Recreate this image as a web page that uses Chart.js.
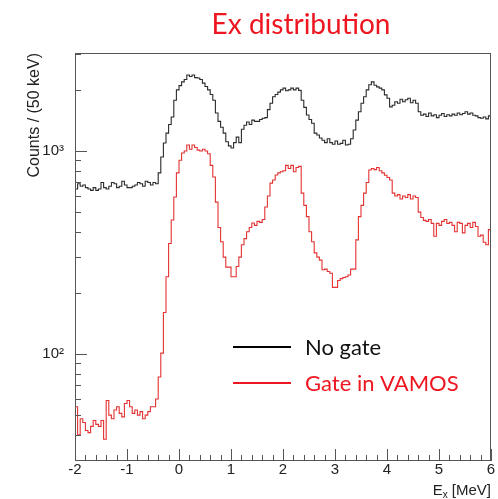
<!DOCTYPE html>
<html><head><meta charset="utf-8">
<script src="https://cdn.jsdelivr.net/npm/chart.js@4"></script>
<style>html,body{margin:0;padding:0;background:#fff;overflow:hidden}</style>
</head><body>
<canvas id="c" width="498" height="499" style="display:block"></canvas>
<script>
// Histogram: 160 bins of 50 keV from -2 to 6 MeV
const binLow = -2;
const binWidth = 0.05;
const noGate = [
  650, 690, 670, 680, 660, 650, 640, 660, 640, 650,
  700, 660, 650, 670, 700, 690, 660, 670, 710, 680,
  660, 660, 670, 680, 700, 690, 670, 710, 700, 680,
  700, 690, 780, 935, 1095, 1225, 1350, 1470, 1780, 2000,
  2100, 2190, 2250, 2370, 2330, 2370, 2300, 2290, 2250, 2160,
  2080, 2000, 1900, 1780, 1540, 1400, 1310, 1225, 1110, 1060,
  1035, 1100, 1170, 1100, 1280, 1340, 1390, 1350, 1420, 1400,
  1400, 1430, 1450, 1460, 1600, 1720, 1850, 1900, 1950, 2000,
  2040, 1980, 2000, 2040, 2000, 2040, 1990, 1780, 1640, 1505,
  1430, 1370, 1225, 1200, 1160, 1130, 1100, 1150, 1100, 1080,
  1120, 1080, 1090, 1130, 1070, 1080, 1150, 1270, 1420, 1560,
  1720, 1850, 2000, 2120, 2190, 2110, 2070, 2040, 2000, 1890,
  1820, 1650, 1680, 1750, 1720, 1800, 1750, 1790, 1820, 1730,
  1780, 1720, 1560, 1500, 1520, 1480, 1540, 1490, 1510, 1460,
  1500, 1530, 1480, 1510, 1490, 1520, 1500, 1540, 1510, 1530,
  1560, 1520, 1540, 1500, 1490, 1460, 1450, 1470, 1440, 1490
];
const gateVamos = [
  55, 40, 48, 46, 42, 41, 44, 47, 45, 44,
  47, 38, 59, 50, 48, 53, 55, 51, 49, 57,
  59, 55, 51, 53, 50, 52, 48, 50, 52, 55,
  55, 60, 77, 101, 160, 240, 350, 457, 594, 780,
  900, 978, 1000, 1070, 1020, 1070, 1040, 1010, 1000, 1020,
  1000, 970, 850, 745, 560, 420, 357, 300, 268, 268,
  240, 240, 270, 300, 345, 370, 400, 420, 442, 430,
  450, 445, 460, 530, 600, 695, 720, 762, 780, 790,
  800, 850, 820, 850, 790, 830, 840, 620, 540, 475,
  400, 357, 315, 300, 290, 260, 262, 255, 250, 213,
  213, 230, 235, 238, 240, 245, 262, 262, 365, 475,
  540, 620, 700, 806, 820, 810, 830, 800, 780, 760,
  740, 720, 620, 600, 610, 580, 600, 590, 610, 580,
  600, 590, 500, 470, 455, 450, 460, 440, 380, 440,
  430, 450, 460, 440, 445, 430, 400, 445, 440, 395,
  430, 440, 420, 445, 425, 380, 385, 355, 345, 410
];
const seriesLabels = ['No gate', 'Gate in VAMOS'];
const xTickValues = [-2, -1, 0, 1, 2, 3, 4, 5, 6];
const xMinorStep = 0.2;
const yTickValues = [30,40,50,60,70,80,90,100,200,300,400,500,600,700,800,900,1000,2000,3000];
const yTickLabels = {100: '10\u00B2', 1000: '10\u00B3'};
const chartTitle = 'Ex distribution';
const yTitle = 'Counts / (50 keV)';

function toSteps(vals) {
  const pts = vals.map((v, i) => ({x: binLow + i * binWidth, y: v}));
  pts.push({x: binLow + vals.length * binWidth, y: vals[vals.length - 1]});
  return pts;
}

const RED = 'rgb(238,22,32)';
const frameColor = '#555';

const decor = {
  id: 'decor',
  afterDraw(chart) {
    const {ctx, chartArea: a, scales} = chart;
    const xs = scales.x, ys = scales.y;
    ctx.save();
    // frame
    ctx.strokeStyle = frameColor; ctx.lineWidth = 1;
    ctx.strokeRect(a.left + 0.5, a.top + 0.5, a.right - a.left - 1, a.bottom - a.top - 1);
    // x ticks
    ctx.beginPath();
    for (let k = 0; k <= Math.round((xs.max - xs.min) / xMinorStep); k++) {
      const v = xs.min + k * xMinorStep;
      const px = Math.round(xs.getPixelForValue(v)) + 0.5;
      const major = Math.abs(v - Math.round(v)) < 1e-6;
      ctx.moveTo(px, a.bottom); ctx.lineTo(px, a.bottom - (major ? 12 : 6));
    }
    // y ticks
    yTickValues.forEach(v => {
      const py = Math.round(ys.getPixelForValue(v)) + 0.5;
      const major = yTickLabels[v] !== undefined;
      ctx.moveTo(a.left, py); ctx.lineTo(a.left + (major ? 12 : 6), py);
    });
    ctx.stroke();
    // title
    ctx.fillStyle = RED;
    ctx.font = '28px Lato';
    ctx.textBaseline = 'alphabetic'; ctx.textAlign = 'center';
    ctx.fillText(chartTitle, 301, 34);
    // y title
    ctx.save();
    ctx.translate(39, a.top);
    ctx.rotate(-Math.PI / 2);
    ctx.fillStyle = '#222';
    ctx.font = '16px "Liberation Sans"';
    ctx.textAlign = 'right'; ctx.textBaseline = 'alphabetic';
    ctx.fillText(yTitle, 0, 0);
    ctx.restore();
    // x title: E_x [MeV]
    ctx.fillStyle = '#222';
    ctx.textAlign = 'left'; ctx.textBaseline = 'alphabetic';
    const partE = 'E', partX = 'x', partU = ' [MeV]';
    ctx.font = '15px "Liberation Sans"';
    const wE = ctx.measureText(partE).width, wU = ctx.measureText(partU).width;
    ctx.font = '10px "Liberation Sans"';
    const wX = ctx.measureText(partX).width;
    let x0 = a.right - (wE + wX + wU);
    const by = 495;
    ctx.font = '15px "Liberation Sans"'; ctx.fillText(partE, x0, by);
    ctx.font = '10px "Liberation Sans"'; ctx.fillText(partX, x0 + wE, by + 3);
    ctx.font = '15px "Liberation Sans"'; ctx.fillText(partU, x0 + wE + wX, by);
    // legend
    const legY = [347, 383];
    const legCol = ['#000', RED];
    const txtCol = ['#111', RED];
    chart.data.datasets.forEach((ds, i) => {
      ctx.strokeStyle = legCol[i]; ctx.lineWidth = 2;
      ctx.beginPath(); ctx.moveTo(233, legY[i]); ctx.lineTo(291, legY[i]); ctx.stroke();
      ctx.fillStyle = txtCol[i];
      ctx.font = '22px Lato';
      ctx.textBaseline = 'middle';
      ctx.fillText(ds.label, 305, legY[i] + 1);
    });
    ctx.restore();
  }
};

new Chart(document.getElementById('c'), {
  type: 'line',
  data: {
    datasets: [
      {label: seriesLabels[0], data: toSteps(noGate), borderColor: '#2a2a2a', borderWidth: 1.1,
       stepped: 'before', pointRadius: 0, fill: false, tension: 0},
      {label: seriesLabels[1], data: toSteps(gateVamos), borderColor: 'rgb(228,50,50)', borderWidth: 1.1,
       stepped: 'before', pointRadius: 0, fill: false, tension: 0}
    ]
  },
  options: {
    responsive: false, animation: false, devicePixelRatio: 1,
    layout: {padding: {left: 0, top: 53, right: 7, bottom: 0}},
    plugins: {legend: {display: false}, title: {display: false}, tooltip: {enabled: false}},
    scales: {
      x: {
        type: 'linear', min: -2, max: 6,
        grid: {display: false, drawTicks: false}, border: {display: false},
        afterBuildTicks: s => { s.ticks = xTickValues.map(v => ({value: v})); },
        ticks: {autoSkip: false, maxRotation: 0, padding: 0, color: '#222',
          font: {family: 'Liberation Sans', size: 15}, callback: v => String(v)},
        afterFit: s => { s.height = 38; }
      },
      y: {
        type: 'logarithmic', min: 29.7, max: 3040,
        grid: {display: false, drawTicks: false}, border: {display: false},
        afterBuildTicks: s => { s.ticks = yTickValues.map(v => ({value: v})); },
        ticks: {autoSkip: false, padding: 11, color: '#222',
          font: {family: 'Liberation Sans', size: 15},
          callback: v => yTickLabels[v] || ''},
        afterFit: s => { s.width = 75; }
      }
    }
  },
  plugins: [decor]
});
</script>
</body></html>
